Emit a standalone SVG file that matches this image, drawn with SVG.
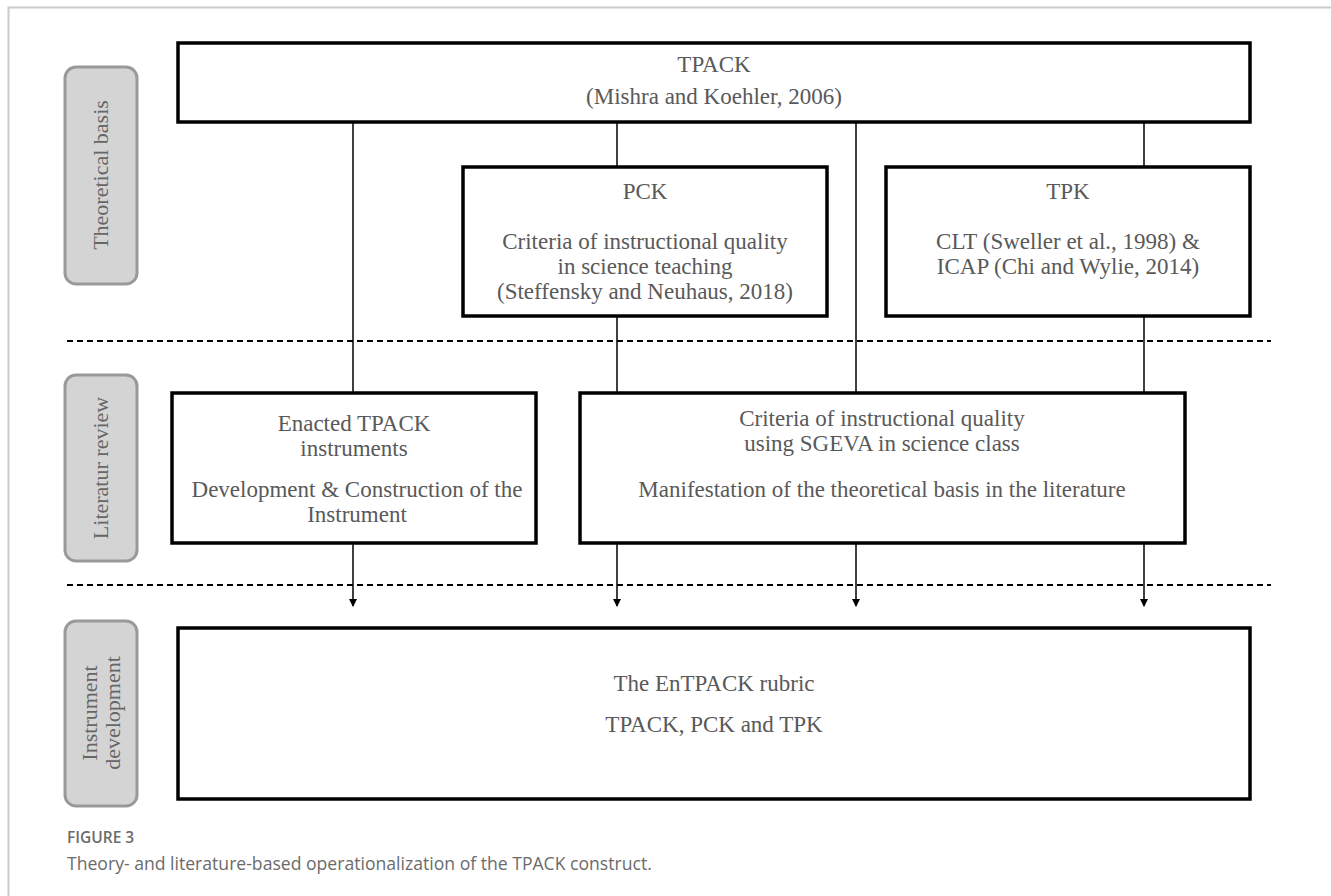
<svg xmlns="http://www.w3.org/2000/svg" width="1331" height="896" viewBox="0 0 1331 896">
<defs>
<style>
.box{fill:#fff;stroke:#000;stroke-width:3.5}
.pill{fill:#d4d4d4;stroke:#999;stroke-width:3}
.t{font-family:"Liberation Serif","Times New Roman",serif;font-size:23px;fill:#595959;text-anchor:middle}
.pt{font-family:"Liberation Serif","Times New Roman",serif;font-size:22px;fill:#666;text-anchor:middle}
.ln{stroke:#000;stroke-width:1.5;fill:none}
.dash{stroke:#000;stroke-width:2;stroke-dasharray:6 4;fill:none}
.cap1{font-family:"Open Sans","Noto Sans",sans-serif;font-size:15.5px;font-weight:600;fill:#6b6b6b}
.cap2{font-family:"Open Sans","Noto Sans",sans-serif;font-size:17.6px;fill:#6b6b6b}
</style>
<marker id="ah" markerWidth="8" markerHeight="8" refX="7" refY="4" orient="auto" markerUnits="userSpaceOnUse">
<path d="M0,0 L8,4 L0,8 Z" fill="#000"/>
</marker>
</defs>
<rect width="1331" height="896" fill="#fff"/>
<path d="M8.5,896 V7.5 H1331" fill="none" stroke="#ccc" stroke-width="2"/>

<g id="pill-theoretical">
<rect class="pill" x="65" y="67" width="72" height="217" rx="11"/>
<text class="pt" transform="translate(108,175) rotate(-90)">Theoretical basis</text>
</g>
<g id="pill-literature">
<rect class="pill" x="65" y="375" width="72" height="186" rx="11"/>
<text class="pt" transform="translate(108,468) rotate(-90)">Literatur review</text>
</g>
<g id="pill-instrument">
<rect class="pill" x="65" y="621" width="72" height="185" rx="11"/>
<text class="pt" transform="translate(97,713) rotate(-90)">Instrument</text>
<text class="pt" transform="translate(120,713) rotate(-90)">development</text>
</g>

<g id="connectors">
<path class="dash" d="M67,341 H1271"/>
<path class="dash" d="M67,585 H1271"/>
<path class="ln" d="M353,122 V393"/>
<path class="ln" d="M617,122 V167"/>
<path class="ln" d="M1144,122 V167"/>
<path class="ln" d="M856,122 V393"/>
<path class="ln" d="M617,316 V393"/>
<path class="ln" d="M1144,316 V393"/>
<path class="ln" d="M353,543 V606" marker-end="url(#ah)"/>
<path class="ln" d="M617,543 V606" marker-end="url(#ah)"/>
<path class="ln" d="M856,543 V606" marker-end="url(#ah)"/>
<path class="ln" d="M1144,543 V606" marker-end="url(#ah)"/>
</g>

<g id="tpack">
<rect class="box" x="178" y="43" width="1072" height="79"/>
<text class="t" x="714" y="72">TPACK</text>
<text class="t" x="714" y="104">(Mishra and Koehler, 2006)</text>
</g>
<g id="pck">
<rect class="box" x="463" y="167" width="364" height="149"/>
<text class="t" x="645" y="199">PCK</text>
<text class="t" x="645" y="249">Criteria of instructional quality</text>
<text class="t" x="645" y="274">in science teaching</text>
<text class="t" x="645" y="299">(Steffensky and Neuhaus, 2018)</text>
</g>
<g id="tpk">
<rect class="box" x="886" y="167" width="364" height="149"/>
<text class="t" x="1068" y="199">TPK</text>
<text class="t" x="1068" y="249">CLT (Sweller et al., 1998) &amp;</text>
<text class="t" x="1068" y="274">ICAP (Chi and Wylie, 2014)</text>
</g>
<g id="enacted">
<rect class="box" x="172" y="393" width="364" height="150"/>
<text class="t" x="354" y="431">Enacted TPACK</text>
<text class="t" x="354" y="456">instruments</text>
<text class="t" x="357" y="497">Development &amp; Construction of the</text>
<text class="t" x="357" y="522">Instrument</text>
</g>
<g id="criteria">
<rect class="box" x="580" y="393" width="605" height="150"/>
<text class="t" x="882" y="426">Criteria of instructional quality</text>
<text class="t" x="882" y="451">using SGEVA in science class</text>
<text class="t" x="882" y="497">Manifestation of the theoretical basis in the literature</text>
</g>
<g id="rubric">
<rect class="box" x="178" y="628" width="1072" height="171"/>
<text class="t" x="714" y="691">The EnTPACK rubric</text>
<text class="t" x="714" y="732">TPACK, PCK and TPK</text>
</g>

<g id="caption">
<text class="cap1" x="67" y="843">FIGURE 3</text>
<text class="cap2" x="67" y="870">Theory- and literature-based operationalization of the TPACK construct.</text>
</g>
</svg>
